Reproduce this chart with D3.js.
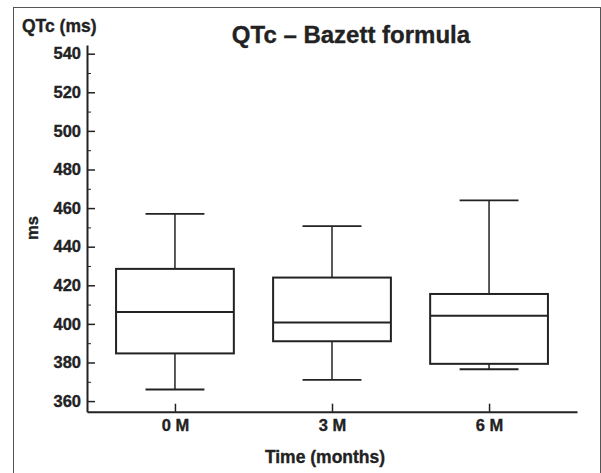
<!DOCTYPE html>
<html>
<head>
<meta charset="utf-8">
<script src="https://cdn.jsdelivr.net/npm/d3@7"></script>
<style>
  body { margin: 0; background: #fff; }
  svg { display: block; font-family: "Liberation Sans", Arial, sans-serif; }
  text { stroke: #222; stroke-width: 0.35px; }
</style>
</head>
<body>
<svg width="601" height="473"></svg>
<script>
// data
const categories = ["0 M", "3 M", "6 M"];
const whiskerLow = [366, 371, 376.5];
const q1 = [384.7, 391, 379.3];
const median = [406.2, 400.7, 404.2];
const q3 = [428.5, 424, 415.5];
const whiskerHigh = [457, 450.7, 464];
const yMajorTicks = [360, 380, 400, 420, 440, 460, 480, 500, 520, 540];
const yMinorTicks = [370, 390, 410, 430, 450, 470, 490, 510, 530];

const svg = d3.select("svg");
const ink = "#222";

// frame around the figure
svg.append("rect")
  .attr("x", 13.5).attr("y", 7.5)
  .attr("width", 587).attr("height", 470)
  .attr("fill", "none").attr("stroke", "#555").attr("stroke-width", 1);

// scales
const x = d3.scalePoint().domain(categories).range([87, 577]).padding(0.56);
const y = d3.scaleLinear().domain([354.5, 544.5]).range([411.7, 45]);

const boxW = x.step() * 0.75;
const capW = boxW / 2;

// y axis, ticks pointing inward
const yAxis = svg.append("g")
  .attr("transform", "translate(87,0)")
  .call(d3.axisLeft(y).tickValues(yMajorTicks).tickSize(-8).tickSizeOuter(0).tickPadding(6));
yAxis.select(".domain").attr("stroke", ink).attr("stroke-width", 2);
yAxis.selectAll(".tick line").attr("stroke", ink).attr("stroke-width", 1.5);
yAxis.selectAll(".tick text")
  .attr("fill", ink).attr("font-size", "16.5px").attr("font-weight", "bold")
  .attr("font-family", "Liberation Sans, Arial, sans-serif");

const yMinor = svg.append("g")
  .attr("transform", "translate(87,0)")
  .call(d3.axisLeft(y).tickValues(yMinorTicks).tickSize(-4).tickSizeOuter(0).tickFormat(""));
yMinor.select(".domain").remove();
yMinor.selectAll(".tick line").attr("stroke", ink).attr("stroke-width", 1);

// x axis, ticks pointing up
const xAxis = svg.append("g")
  .attr("transform", "translate(0,411.7)")
  .call(d3.axisBottom(x).tickSize(-8).tickSizeOuter(0).tickPadding(8));
xAxis.select(".domain").attr("stroke", ink).attr("stroke-width", 2);
xAxis.selectAll(".tick line").attr("stroke", ink).attr("stroke-width", 1.5);
xAxis.selectAll(".tick text")
  .attr("fill", ink).attr("font-size", "16.5px").attr("font-weight", "bold")
  .attr("font-family", "Liberation Sans, Arial, sans-serif");

// boxes
const rows = categories.map((c, i) => ({
  cat: c, lo: whiskerLow[i], q1: q1[i], med: median[i], q3: q3[i], hi: whiskerHigh[i]
}));

const g = svg.append("g").attr("stroke", ink).attr("fill", "none");
const box = g.selectAll(".box").data(rows).join("g").attr("class", "box");

// stems
box.append("line")
  .attr("x1", d => x(d.cat)).attr("x2", d => x(d.cat))
  .attr("y1", d => y(d.hi)).attr("y2", d => y(d.q3))
  .attr("stroke-width", 1.5);
box.append("line")
  .attr("x1", d => x(d.cat)).attr("x2", d => x(d.cat))
  .attr("y1", d => y(d.q1)).attr("y2", d => y(d.lo))
  .attr("stroke-width", 1.5);
// caps
box.append("line")
  .attr("x1", d => x(d.cat) - capW / 2).attr("x2", d => x(d.cat) + capW / 2)
  .attr("y1", d => y(d.hi)).attr("y2", d => y(d.hi))
  .attr("stroke-width", 1.8);
box.append("line")
  .attr("x1", d => x(d.cat) - capW / 2).attr("x2", d => x(d.cat) + capW / 2)
  .attr("y1", d => y(d.lo)).attr("y2", d => y(d.lo))
  .attr("stroke-width", 1.8);
// box and median
box.append("rect")
  .attr("x", d => x(d.cat) - boxW / 2).attr("width", boxW)
  .attr("y", d => y(d.q3)).attr("height", d => y(d.q1) - y(d.q3))
  .attr("fill", "#fff").attr("stroke-width", 2);
box.append("line")
  .attr("x1", d => x(d.cat) - boxW / 2).attr("x2", d => x(d.cat) + boxW / 2)
  .attr("y1", d => y(d.med)).attr("y2", d => y(d.med))
  .attr("stroke-width", 2);

// texts
svg.append("text")
  .attr("x", 351).attr("y", 43)
  .attr("text-anchor", "middle")
  .attr("font-size", "24px").attr("font-weight", "bold").attr("fill", ink)
  .text("QTc – Bazett formula");

svg.append("text")
  .attr("x", 22).attr("y", 32)
  .attr("font-size", "17.5px").attr("font-weight", "bold").attr("fill", ink)
  .text("QTc (ms)");

svg.append("text")
  .attr("transform", "translate(38,228) rotate(-90)")
  .attr("text-anchor", "middle")
  .attr("font-size", "16.5px").attr("font-weight", "bold").attr("fill", ink)
  .text("ms");

svg.append("text")
  .attr("x", 325).attr("y", 463)
  .attr("text-anchor", "middle")
  .attr("font-size", "17.5px").attr("font-weight", "bold").attr("fill", ink)
  .text("Time (months)");
</script>
</body>
</html>
